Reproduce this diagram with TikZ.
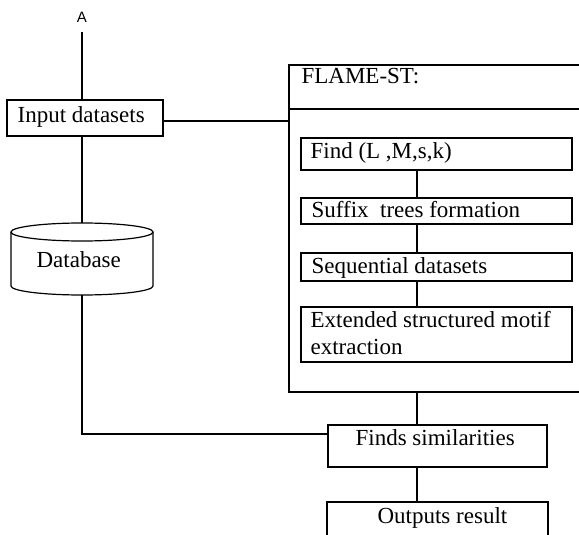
\documentclass[tikz,border=0pt]{standalone}
\usepackage{fontspec}
\setmainfont{Liberation Serif}
\newfontfamily\labelsans{Liberation Sans}
\usetikzlibrary{calc}

\begin{document}
\begin{tikzpicture}[x=1pt,y=-1pt,
  line width=1.2pt,
  box/.style={draw, rectangle, inner sep=0pt},
  txt/.style={inner sep=0pt, anchor=base west, align=left,
              font=\fontsize{23}{27}\selectfont},
]
\useasboundingbox (0,0) rectangle (579,535);
\clip (0,0) rectangle (579,535);

% vertical spine used by the connectors inside and below FLAME-ST
\coordinate (spine) at (417,0);

% entry label
\node[inner sep=0pt, font=\labelsans\fontsize{15}{15}\selectfont] (a) at (82,17) {A};

% input box
\node[box, minimum width=156pt, minimum height=36pt] (input) at (85,118) {};
\node[txt] (inputT) at (17,122) {Input datasets};

% database cylinder
\coordinate (dbtop) at (82,223);
\coordinate (dbbot) at (82,295);
\draw (11,232) -- (11,286) arc[start angle=180, end angle=0, x radius=71, y radius=9]
      -- (153,232);
\draw (82,232) ellipse [x radius=71, y radius=9];
\node[txt] (db) at (36,267) {Database};

% FLAME-ST container (runs past the right edge)
\node[box, minimum width=351pt, minimum height=327pt] (flame) at (464.5,228.5) {};
\coordinate (hdrL) at (289,109);
\coordinate (hdrR) at (640,109);
\draw (hdrL) -- (hdrR);
\node[txt] (flameT) at (301,84) {FLAME-ST:};

% steps inside FLAME-ST
\node[box, minimum width=271pt, minimum height=32pt] (find) at (436.5,154) {};
\node[txt] (findT) at (310,158) {Find (L ,M,s,k)};

\node[box, minimum width=271pt, minimum height=26pt] (suffix) at (436.5,211) {};
\node[txt] (suffixT) at (311,217) {Suffix\ \ trees formation};

\node[box, minimum width=271pt, minimum height=28pt] (seq) at (436.5,267) {};
\node[txt] (seqT) at (311,273) {Sequential datasets};

\node[box, minimum width=271pt, minimum height=55pt] (ext) at (436.5,334.5) {};
\node[txt] (extT) at (310,354) {Extended structured motif\\extraction};

% result boxes
\node[box, minimum width=219pt, minimum height=42pt] (finds) at (437.5,446) {};
\node[txt] (findsT) at (355,445) {Finds similarities};

\node[box, minimum width=221pt, minimum height=56pt] (outputs) at (437.5,530) {};
\node[txt] (outputsT) at (377,523) {Outputs result};

% connectors
\draw (a.south |- 0,32) -- (input.north -| a.south);
\draw ($(input.east)+(0,3)$) -- ($(input.east -| flame.west)+(0,3)$);
\draw (input.south -| a.south) -- (dbtop);
\draw (dbbot) -- (dbbot |- 0,434) -- ($(finds.west)+(0,-12)$);

\draw (find.south -| spine) -- (suffix.north -| spine);
\draw (suffix.south -| spine) -- (seq.north -| spine);
\draw (seq.south -| spine) -- (ext.north -| spine);
\draw (flame.south -| spine) -- (finds.north -| spine);
\draw (finds.south -| spine) -- (outputs.north -| spine);
\end{tikzpicture}
\end{document}
